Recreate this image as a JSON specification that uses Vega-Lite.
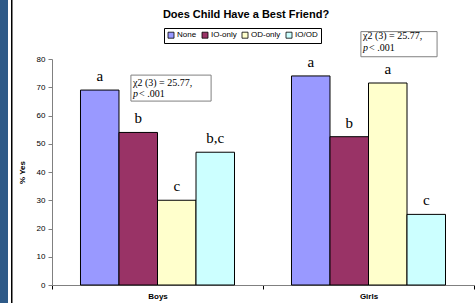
{
  "$schema": "https://vega.github.io/schema/vega-lite/v6.json",
  "autosize": {"type": "pad"},
  "padding": 0,
  "background": "white",
  "bounds": "flush",
  "spacing": 52,
  "config": {"view": {"stroke": null}, "font": "Liberation Sans"},
  "hconcat": [
    {
      "bounds": "flush",
      "spacing": 3,
      "hconcat": [
        {"width": 8, "height": 303, "view": {"fill": "#2e5a88", "stroke": null}, "data": {"values": [{}]}, "mark": {"type": "point", "opacity": 0}, "encoding": {}},
        {"width": 1.5, "height": 303, "view": {"fill": "#000000", "stroke": null}, "data": {"values": [{}]}, "mark": {"type": "point", "opacity": 0}, "encoding": {}}
      ]
    },
    {
      "width": 422,
      "height": 303,
      "view": {"stroke": null},
      "title": {"text": "Does Child Have a Best Friend?", "font": "Liberation Sans", "fontSize": 11, "fontWeight": "bold", "color": "black", "anchor": "middle", "frame": "group", "baseline": "top", "offset": -19.5, "dx": -17},
      "layer": [
        {
          "data": {"values": [
            {"group": "Boys", "type": "None", "value": 69, "sig": "a"},
            {"group": "Boys", "type": "IO-only", "value": 54, "sig": "b"},
            {"group": "Boys", "type": "OD-only", "value": 30, "sig": "c"},
            {"group": "Boys", "type": "IO/OD", "value": 47, "sig": "b,c"},
            {"group": "Girls", "type": "None", "value": 74, "sig": "a"},
            {"group": "Girls", "type": "IO-only", "value": 52.5, "sig": "b"},
            {"group": "Girls", "type": "OD-only", "value": 71.5, "sig": "a"},
            {"group": "Girls", "type": "IO/OD", "value": 25, "sig": "c"}
          ]},
          "encoding": {
            "x": {"field": "group", "type": "nominal", "sort": ["Boys", "Girls"], "scale": {"paddingInner": 0, "paddingOuter": 0},
              "axis": {"title": null, "offset": -18, "tickBand": "extent", "labelAngle": 0, "domainColor": "#808080", "tickColor": "black", "tickSize": 4, "labelFont": "Liberation Sans", "labelFontSize": 8, "labelFontWeight": "bold", "labelColor": "black", "labelPadding": 3}},
            "xOffset": {"field": "type", "type": "nominal", "sort": ["None", "IO-only", "OD-only", "IO/OD"], "scale": {"paddingInner": 0, "paddingOuter": 0.74}},
            "y": {"field": "value", "type": "quantitative", "title": "% Yes", "scale": {"domain": [0, 80], "range": [285, 59], "nice": false},
              "axis": {"values": [0, 10, 20, 30, 40, 50, 60, 70, 80], "grid": false, "domainColor": "#808080", "tickColor": "#808080", "tickSize": 4, "labelFont": "Liberation Sans", "labelFontSize": 8, "labelColor": "black", "labelPadding": 3, "titleFont": "Liberation Sans", "titleFontSize": 8, "titleFontWeight": "bold", "titleColor": "black", "titlePadding": 10}}
          },
          "layer": [
            {
              "mark": {"type": "bar", "stroke": "black", "strokeWidth": 1},
              "encoding": {
                "color": {"field": "type", "type": "nominal", "sort": ["None", "IO-only", "OD-only", "IO/OD"],
                  "scale": {"domain": ["None", "IO-only", "OD-only", "IO/OD"], "range": ["#9999ff", "#993366", "#ffffcc", "#ccffff"]},
                  "legend": {"orient": "none", "legendX": 164, "legendY": 28, "direction": "horizontal", "title": null, "strokeColor": "black", "padding": 3, "fillColor": "white", "symbolType": "square", "symbolSize": 36, "symbolStrokeColor": "black", "symbolStrokeWidth": 0.8, "symbolOpacity": 1, "labelFont": "Liberation Sans", "labelFontSize": 8, "labelColor": "black", "labelOffset": 2, "columnPadding": 3}}
              }
            },
            {
              "mark": {"type": "text", "font": "Liberation Serif", "fontSize": 15, "baseline": "alphabetic", "dy": -9, "color": "black"},
              "encoding": {"text": {"field": "sig"}}
            }
          ]
        },
        {
          "layer": [
            {
              "data": {"values": [
                {"x0": 0.374, "x1": 0.754, "y0": 65.1, "y1": 74.3},
                {"x0": 1.464, "x1": 1.825, "y0": 80.8, "y1": 89.7}
              ]},
              "mark": {"type": "rect", "fill": "white", "stroke": "#808080", "strokeWidth": 1},
              "encoding": {
                "x": {"field": "x0", "type": "quantitative", "scale": {"domain": [0, 2], "nice": false, "zero": false}, "axis": null},
                "x2": {"field": "x1"},
                "y": {"field": "y0", "type": "quantitative", "title": "% Yes", "scale": {"domain": [0, 80], "range": [285, 59], "nice": false},
                  "axis": {"values": [0, 10, 20, 30, 40, 50, 60, 70, 80], "grid": false, "domainColor": "#808080", "tickColor": "#808080", "tickSize": 4, "labelFont": "Liberation Sans", "labelFontSize": 8, "labelColor": "black", "labelPadding": 3, "titleFont": "Liberation Sans", "titleFontSize": 8, "titleFontWeight": "bold", "titleColor": "black", "titlePadding": 10}},
                "y2": {"field": "y1"}
              }
            },
            {
              "data": {"values": [
                {"gx": 0.384, "gy": 71.4, "label": "χ2 (3) = 25.77,"},
                {"gx": 0.4125, "gy": 67.5, "label": "< .001"},
                {"gx": 1.474, "gy": 88.1, "label": "χ2 (3) = 25.77,"},
                {"gx": 1.5025, "gy": 83.8, "label": "< .001"}
              ]},
              "mark": {"type": "text", "align": "left", "baseline": "middle", "font": "Liberation Serif", "fontSize": 10, "color": "black"},
              "encoding": {
                "x": {"field": "gx", "type": "quantitative", "scale": {"domain": [0, 2], "nice": false, "zero": false}, "axis": null},
                "y": {"field": "gy", "type": "quantitative", "title": "% Yes", "scale": {"domain": [0, 80], "range": [285, 59], "nice": false},
                  "axis": {"values": [0, 10, 20, 30, 40, 50, 60, 70, 80], "grid": false, "domainColor": "#808080", "tickColor": "#808080", "tickSize": 4, "labelFont": "Liberation Sans", "labelFontSize": 8, "labelColor": "black", "labelPadding": 3, "titleFont": "Liberation Sans", "titleFontSize": 8, "titleFontWeight": "bold", "titleColor": "black", "titlePadding": 10}},
                "text": {"field": "label"}
              }
            },
            {
              "data": {"values": [
                {"gx": 0.384, "gy": 67.5, "label": "p"},
                {"gx": 1.474, "gy": 83.8, "label": "p"}
              ]},
              "mark": {"type": "text", "align": "left", "baseline": "middle", "font": "Liberation Serif", "fontSize": 10, "fontStyle": "italic", "color": "black"},
              "encoding": {
                "x": {"field": "gx", "type": "quantitative", "scale": {"domain": [0, 2], "nice": false, "zero": false}, "axis": null},
                "y": {"field": "gy", "type": "quantitative", "title": "% Yes", "scale": {"domain": [0, 80], "range": [285, 59], "nice": false},
                  "axis": {"values": [0, 10, 20, 30, 40, 50, 60, 70, 80], "grid": false, "domainColor": "#808080", "tickColor": "#808080", "tickSize": 4, "labelFont": "Liberation Sans", "labelFontSize": 8, "labelColor": "black", "labelPadding": 3, "titleFont": "Liberation Sans", "titleFontSize": 8, "titleFontWeight": "bold", "titleColor": "black", "titlePadding": 10}},
                "text": {"field": "label"}
              }
            }
          ]
        }
      ],
      "resolve": {"scale": {"x": "independent"}}
    }
  ]
}
